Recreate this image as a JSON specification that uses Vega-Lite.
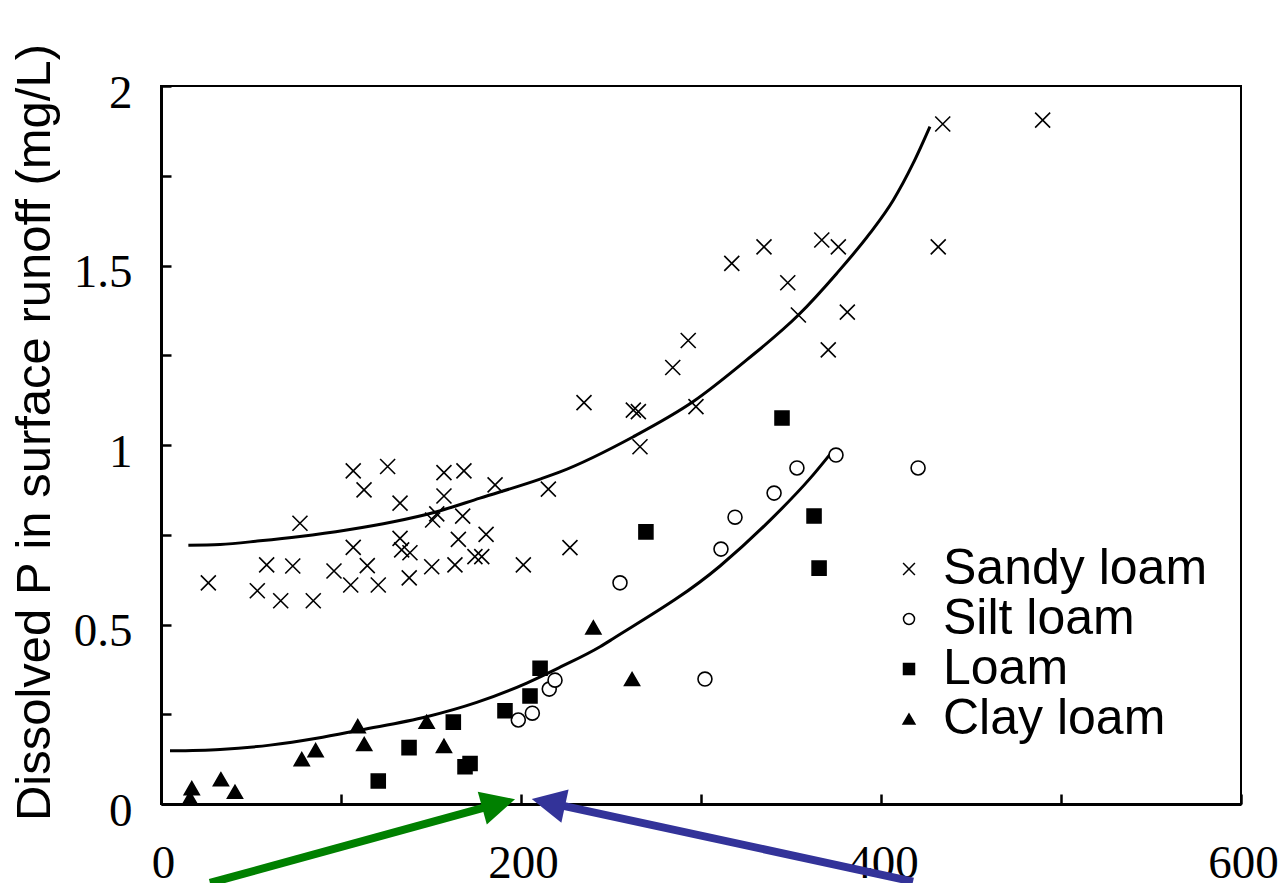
{
  "$schema": "https://vega.github.io/schema/vega-lite/v6.json",
  "width": 1080,
  "height": 718,
  "autosize": {"type": "none"},
  "padding": {"left": 161, "top": 86, "right": 42, "bottom": 79},
  "background": "white",
  "config": {
    "view": {"stroke": "black", "strokeWidth": 2},
    "axis": {
      "domainColor": "black", "domainWidth": 3,
      "tickColor": "black", "tickWidth": 2.5, "tickSize": -10,
      "grid": false,
      "labelFont": "Liberation Serif", "labelFontSize": 47, "labelColor": "black",
      "labelFlush": false, "labelOverlap": false,
      "titleColor": "black"
    }
  },
  "datasets": {
    "points": [
      {"soil": "Sandy loam", "x": 26.3, "y": 0.616},
      {"soil": "Sandy loam", "x": 58.7, "y": 0.666},
      {"soil": "Sandy loam", "x": 73.2, "y": 0.663},
      {"soil": "Sandy loam", "x": 53.5, "y": 0.594},
      {"soil": "Sandy loam", "x": 66.5, "y": 0.566},
      {"soil": "Sandy loam", "x": 84.6, "y": 0.566},
      {"soil": "Sandy loam", "x": 77.2, "y": 0.782},
      {"soil": "Sandy loam", "x": 96.1, "y": 0.649},
      {"soil": "Sandy loam", "x": 106.8, "y": 0.715},
      {"soil": "Sandy loam", "x": 105.4, "y": 0.61},
      {"soil": "Sandy loam", "x": 106.8, "y": 0.928},
      {"soil": "Sandy loam", "x": 112.8, "y": 0.875},
      {"soil": "Sandy loam", "x": 125.9, "y": 0.94},
      {"soil": "Sandy loam", "x": 114.6, "y": 0.664},
      {"soil": "Sandy loam", "x": 120.7, "y": 0.61},
      {"soil": "Sandy loam", "x": 132.8, "y": 0.838},
      {"soil": "Sandy loam", "x": 132.8, "y": 0.74},
      {"soil": "Sandy loam", "x": 133.7, "y": 0.708},
      {"soil": "Sandy loam", "x": 138.3, "y": 0.7},
      {"soil": "Sandy loam", "x": 137.9, "y": 0.63},
      {"soil": "Sandy loam", "x": 150.4, "y": 0.661},
      {"soil": "Sandy loam", "x": 150.9, "y": 0.791},
      {"soil": "Sandy loam", "x": 153.2, "y": 0.808},
      {"soil": "Sandy loam", "x": 157.2, "y": 0.923},
      {"soil": "Sandy loam", "x": 157.2, "y": 0.858},
      {"soil": "Sandy loam", "x": 168.3, "y": 0.928},
      {"soil": "Sandy loam", "x": 167.6, "y": 0.802},
      {"soil": "Sandy loam", "x": 165.2, "y": 0.737},
      {"soil": "Sandy loam", "x": 163.3, "y": 0.666},
      {"soil": "Sandy loam", "x": 180.6, "y": 0.751},
      {"soil": "Sandy loam", "x": 174.4, "y": 0.689},
      {"soil": "Sandy loam", "x": 178.2, "y": 0.689},
      {"soil": "Sandy loam", "x": 185.6, "y": 0.889},
      {"soil": "Sandy loam", "x": 201.3, "y": 0.666},
      {"soil": "Sandy loam", "x": 215.2, "y": 0.877},
      {"soil": "Sandy loam", "x": 227.2, "y": 0.714},
      {"soil": "Sandy loam", "x": 266.1, "y": 0.995},
      {"soil": "Sandy loam", "x": 434.3, "y": 1.894},
      {"soil": "Sandy loam", "x": 489.8, "y": 1.905},
      {"soil": "Sandy loam", "x": 431.8, "y": 1.552},
      {"soil": "Sandy loam", "x": 335.0, "y": 1.552},
      {"soil": "Sandy loam", "x": 367.1, "y": 1.571},
      {"soil": "Sandy loam", "x": 376.3, "y": 1.552},
      {"soil": "Sandy loam", "x": 317.1, "y": 1.506},
      {"soil": "Sandy loam", "x": 348.2, "y": 1.452},
      {"soil": "Sandy loam", "x": 354.1, "y": 1.362},
      {"soil": "Sandy loam", "x": 381.3, "y": 1.37},
      {"soil": "Sandy loam", "x": 370.7, "y": 1.265},
      {"soil": "Sandy loam", "x": 292.9, "y": 1.291},
      {"soil": "Sandy loam", "x": 284.3, "y": 1.216},
      {"soil": "Sandy loam", "x": 235.0, "y": 1.118},
      {"soil": "Sandy loam", "x": 262.4, "y": 1.097},
      {"soil": "Sandy loam", "x": 265.2, "y": 1.093},
      {"soil": "Sandy loam", "x": 297.2, "y": 1.107},
      {"soil": "Silt loam", "x": 198.5, "y": 0.234},
      {"soil": "Silt loam", "x": 206.3, "y": 0.253},
      {"soil": "Silt loam", "x": 215.7, "y": 0.32},
      {"soil": "Silt loam", "x": 218.9, "y": 0.345},
      {"soil": "Silt loam", "x": 255.0, "y": 0.616},
      {"soil": "Silt loam", "x": 302.2, "y": 0.348},
      {"soil": "Silt loam", "x": 311.1, "y": 0.71},
      {"soil": "Silt loam", "x": 318.9, "y": 0.799},
      {"soil": "Silt loam", "x": 340.6, "y": 0.866},
      {"soil": "Silt loam", "x": 353.3, "y": 0.936},
      {"soil": "Silt loam", "x": 375.0, "y": 0.972},
      {"soil": "Silt loam", "x": 420.6, "y": 0.936},
      {"soil": "Loam", "x": 120.7, "y": 0.064},
      {"soil": "Loam", "x": 137.8, "y": 0.157},
      {"soil": "Loam", "x": 162.4, "y": 0.228},
      {"soil": "Loam", "x": 168.9, "y": 0.104},
      {"soil": "Loam", "x": 171.7, "y": 0.113},
      {"soil": "Loam", "x": 191.1, "y": 0.26},
      {"soil": "Loam", "x": 205.0, "y": 0.301},
      {"soil": "Loam", "x": 210.6, "y": 0.378},
      {"soil": "Loam", "x": 269.4, "y": 0.758},
      {"soil": "Loam", "x": 345.0, "y": 1.075},
      {"soil": "Loam", "x": 362.8, "y": 0.802},
      {"soil": "Loam", "x": 365.6, "y": 0.657},
      {"soil": "Clay loam", "x": 17.1, "y": 0.044},
      {"soil": "Clay loam", "x": 16.1, "y": 0.016},
      {"soil": "Clay loam", "x": 33.3, "y": 0.069},
      {"soil": "Clay loam", "x": 41.1, "y": 0.034},
      {"soil": "Clay loam", "x": 78.2, "y": 0.125},
      {"soil": "Clay loam", "x": 85.9, "y": 0.15},
      {"soil": "Clay loam", "x": 109.3, "y": 0.217},
      {"soil": "Clay loam", "x": 112.9, "y": 0.167},
      {"soil": "Clay loam", "x": 147.6, "y": 0.229},
      {"soil": "Clay loam", "x": 157.2, "y": 0.162},
      {"soil": "Clay loam", "x": 240.2, "y": 0.492},
      {"soil": "Clay loam", "x": 261.7, "y": 0.348}
    ],
    "curves": [
      {"curve": "upper", "x": 15.2, "y": 0.721},
      {"curve": "upper", "x": 32.8, "y": 0.723},
      {"curve": "upper", "x": 55.0, "y": 0.733},
      {"curve": "upper", "x": 77.2, "y": 0.745},
      {"curve": "upper", "x": 103.2, "y": 0.763},
      {"curve": "upper", "x": 129.1, "y": 0.786},
      {"curve": "upper", "x": 153.2, "y": 0.814},
      {"curve": "upper", "x": 177.2, "y": 0.852},
      {"curve": "upper", "x": 210.6, "y": 0.905},
      {"curve": "upper", "x": 221.7, "y": 0.925},
      {"curve": "upper", "x": 262.4, "y": 1.023},
      {"curve": "upper", "x": 295.7, "y": 1.121},
      {"curve": "upper", "x": 325.4, "y": 1.237},
      {"curve": "upper", "x": 354.1, "y": 1.362},
      {"curve": "upper", "x": 375.4, "y": 1.478},
      {"curve": "upper", "x": 393.9, "y": 1.59},
      {"curve": "upper", "x": 406.8, "y": 1.682},
      {"curve": "upper", "x": 417.9, "y": 1.785},
      {"curve": "upper", "x": 427.2, "y": 1.887},
      {"curve": "lower", "x": 5.0, "y": 0.148},
      {"curve": "lower", "x": 32.8, "y": 0.152},
      {"curve": "lower", "x": 60.6, "y": 0.164},
      {"curve": "lower", "x": 86.5, "y": 0.183},
      {"curve": "lower", "x": 110.6, "y": 0.206},
      {"curve": "lower", "x": 147.6, "y": 0.243},
      {"curve": "lower", "x": 175.4, "y": 0.283},
      {"curve": "lower", "x": 203.2, "y": 0.337},
      {"curve": "lower", "x": 221.7, "y": 0.381},
      {"curve": "lower", "x": 243.9, "y": 0.438},
      {"curve": "lower", "x": 251.3, "y": 0.461},
      {"curve": "lower", "x": 310.6, "y": 0.663},
      {"curve": "lower", "x": 338.3, "y": 0.79},
      {"curve": "lower", "x": 360.6, "y": 0.907},
      {"curve": "lower", "x": 372.8, "y": 0.981}
    ]
  },
  "layer": [
    {
      "data": {"name": "curves"},
      "mark": {"type": "line", "interpolate": "monotone", "stroke": "black", "strokeWidth": 3},
      "encoding": {
        "x": {
          "field": "x", "type": "quantitative",
          "scale": {"domain": [0, 600], "nice": false, "zero": false},
          "axis": {
            "title": null,
            "values": [0, 100, 200, 300, 400, 500, 600],
            "labelExpr": "datum.value % 200 == 0 ? datum.label : ''",
            "labelBaseline": "alphabetic",
            "labelPadding": 83,
            "labelOffset": 2
          }
        },
        "y": {
          "field": "y", "type": "quantitative",
          "scale": {"domain": [0, 2], "nice": false, "zero": false},
          "axis": {
            "title": "Dissolved P in surface runoff (mg/L)",
            "titleFont": "Liberation Sans", "titleFontSize": 49, "titleFontWeight": "normal",
            "titleAngle": -90, "titleAlign": "center", "titleBaseline": "alphabetic",
            "titleX": -112, "titleY": 346,
            "values": [0, 0.25, 0.5, 0.75, 1, 1.25, 1.5, 1.75, 2],
            "labelExpr": "datum.value % 0.5 == 0 ? format(datum.value, '~g') : ''",
            "labelAlign": "right",
            "labelBaseline": "alphabetic",
            "labelOffset": 21,
            "labelPadding": 39
          }
        },
        "detail": {"field": "curve", "type": "nominal"}
      }
    },
    {
      "data": {"name": "points"},
      "mark": {"type": "point", "filled": true, "stroke": "black", "strokeWidth": 1.6, "opacity": 1, "size": 225},
      "encoding": {
        "x": {"field": "x", "type": "quantitative"},
        "y": {"field": "y", "type": "quantitative"},
        "shape": {
          "field": "soil", "type": "nominal",
          "scale": {
            "domain": ["Sandy loam", "Silt loam", "Loam", "Clay loam"],
            "range": ["M-1,-1L1,1M-1,1L1,-1", "M0.93,0A0.93,0.93 0 1,1 -0.93,0A0.93,0.93 0 1,1 0.93,0Z", "M-0.93,-0.93L0.93,-0.93L0.93,0.93L-0.93,0.93Z", "triangle-up"]
          },
          "legend": {
            "title": null, "orient": "none", "legendX": 723, "legendY": 458,
            "padding": 0, "labelFont": "Liberation Sans", "labelFontSize": 50, "labelColor": "black",
            "labelLimit": 500, "labelOffset": 9, "symbolSize": 140,
            "symbolStrokeColor": "black", "symbolStrokeWidth": 1.5, "rowPadding": -6
          }
        },
        "fill": {
          "field": "soil", "type": "nominal",
          "scale": {
            "domain": ["Sandy loam", "Silt loam", "Loam", "Clay loam"],
            "range": ["transparent", "white", "black", "black"]
          },
          "legend": {
            "title": null, "orient": "none", "legendX": 723, "legendY": 458,
            "padding": 0, "labelFont": "Liberation Sans", "labelFontSize": 50, "labelColor": "black",
            "labelLimit": 500, "labelOffset": 9, "symbolSize": 140,
            "symbolStrokeColor": "black", "symbolStrokeWidth": 1.5, "rowPadding": -6
          }
        },
        "stroke": {
          "field": "soil", "type": "nominal",
          "scale": {
            "domain": ["Sandy loam", "Silt loam", "Loam", "Clay loam"],
            "range": ["black", "black", "black", "black"]
          },
          "legend": {
            "title": null, "orient": "none", "legendX": 723, "legendY": 458,
            "padding": 0, "labelFont": "Liberation Sans", "labelFontSize": 50, "labelColor": "black",
            "labelLimit": 500, "labelOffset": 9, "symbolSize": 140,
            "symbolStrokeColor": "black", "symbolStrokeWidth": 1.5, "rowPadding": -6
          }
        }
      }
    },
    {
      "data": {"values": [{"x": 27.2, "y": -0.22, "x2": 187.6, "y2": 0.001}]},
      "mark": {"type": "rule", "stroke": "#008000", "strokeWidth": 8, "strokeCap": "butt"},
      "encoding": {
        "x": {"field": "x", "type": "quantitative"},
        "y": {"field": "y", "type": "quantitative"},
        "x2": {"field": "x2"},
        "y2": {"field": "y2"}
      }
    },
    {
      "data": {"values": [{"x": 187.6, "y": 0.001}]},
      "mark": {"type": "point", "shape": "M1,0L-1,-1L-1,1Z", "size": 1156, "filled": true, "fill": "#008000", "strokeWidth": 0, "opacity": 1, "angle": 344.6},
      "encoding": {
        "x": {"field": "x", "type": "quantitative"},
        "y": {"field": "y", "type": "quantitative"}
      }
    },
    {
      "data": {"values": [{"x": 417.8, "y": -0.216, "x2": 215.2, "y2": 0.004}]},
      "mark": {"type": "rule", "stroke": "#333399", "strokeWidth": 8, "strokeCap": "butt"},
      "encoding": {
        "x": {"field": "x", "type": "quantitative"},
        "y": {"field": "y", "type": "quantitative"},
        "x2": {"field": "x2"},
        "y2": {"field": "y2"}
      }
    },
    {
      "data": {"values": [{"x": 215.2, "y": 0.004}]},
      "mark": {"type": "point", "shape": "M-1,0L1,-1L1,1Z", "size": 1156, "filled": true, "fill": "#333399", "strokeWidth": 0, "opacity": 1, "angle": 12.3},
      "encoding": {
        "x": {"field": "x", "type": "quantitative"},
        "y": {"field": "y", "type": "quantitative"}
      }
    }
  ]
}
